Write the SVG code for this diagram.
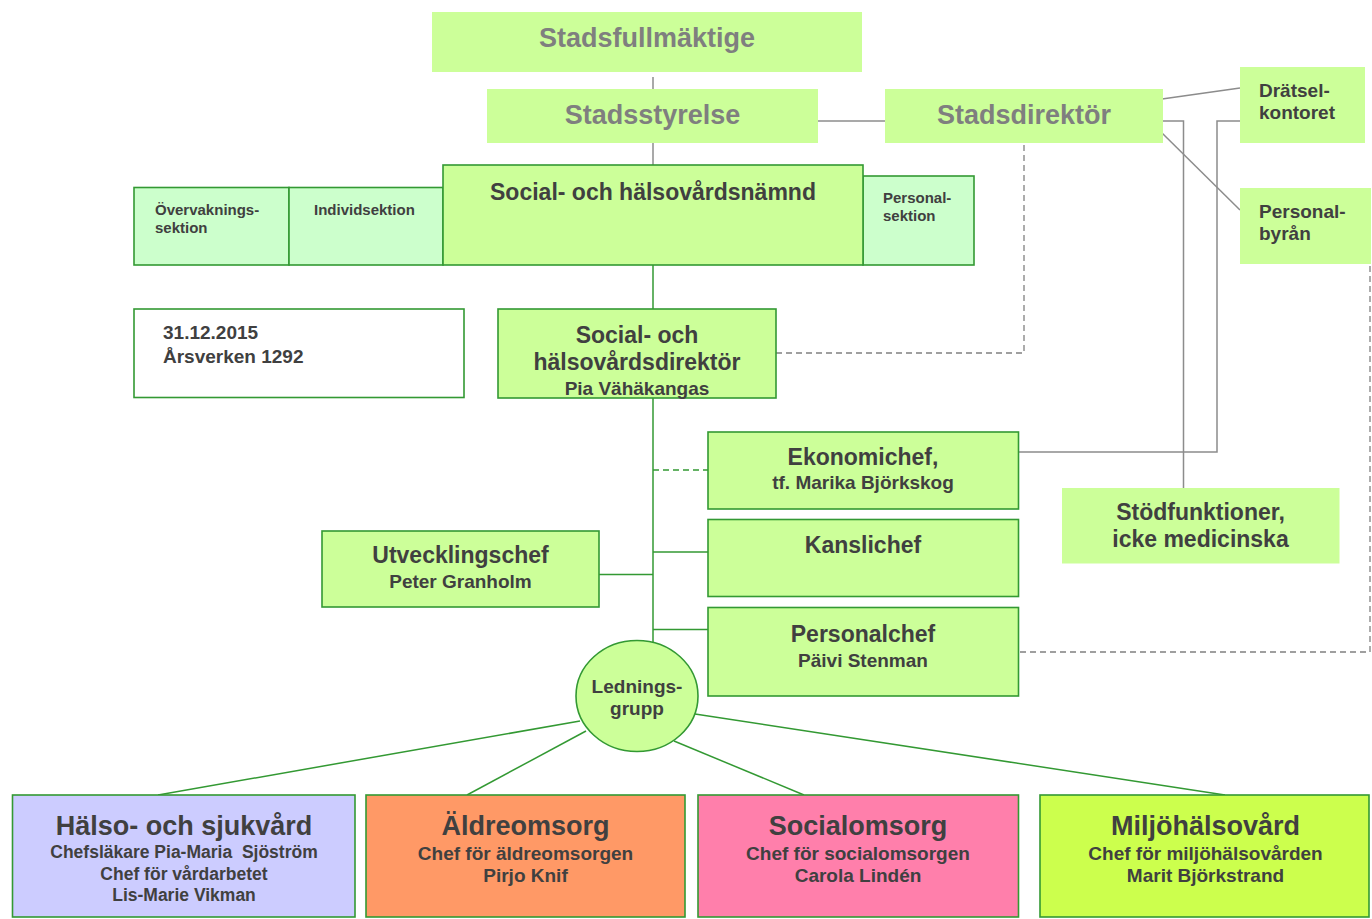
<svg xmlns="http://www.w3.org/2000/svg" width="1372" height="919" viewBox="0 0 1372 919">
<style>
text{font-family:"Liberation Sans",Arial,sans-serif;font-weight:bold;fill:#404040}
.c{text-anchor:middle}
.top{fill:#7f7f7f;font-size:27px}
.g{fill:#ccff99}
.gs{fill:#ccff99;stroke:#339933;stroke-width:1.6}
.sec{fill:#ccffcc;stroke:#339933;stroke-width:1.6}
.ln{fill:none;stroke:#339933;stroke-width:1.5}
.gr{fill:none;stroke:#8c8c8c;stroke-width:1.5}
.dg{fill:none;stroke:#808080;stroke-width:1.3;stroke-dasharray:6 4}
.dgr{fill:none;stroke:#339933;stroke-width:1.5;stroke-dasharray:6 4}
.t15{font-size:15px}
.t19{font-size:19px}
.t23{font-size:23px}
.t27{font-size:27px}
.t17{font-size:17.5px}
</style>
<g id="connectors">
<line class="gr" x1="653" y1="77" x2="653" y2="89"/>
<line class="gr" x1="653" y1="143" x2="653" y2="165"/>
<line class="gr" x1="818" y1="121" x2="885" y2="121"/>
<line class="gr" x1="1162" y1="99" x2="1240" y2="88"/>
<line class="gr" x1="1162" y1="133" x2="1240" y2="210"/>
<polyline class="gr" points="1162,121 1183.5,121 1183.5,488"/>
<polyline class="gr" points="1240,121 1217,121 1217,452 1018.5,452"/>
<polyline class="dg" points="1024,145 1024,353 776,353"/>
<polyline class="dg" points="1370,266 1370,652 1018.5,652"/>
<line class="ln" x1="653" y1="265" x2="653" y2="309"/>
<line class="ln" x1="653" y1="398" x2="653" y2="643"/>
<line class="dgr" x1="653" y1="470" x2="708" y2="470"/>
<line class="ln" x1="653" y1="552" x2="708" y2="552"/>
<line class="ln" x1="599" y1="574.5" x2="653" y2="574.5"/>
<line class="ln" x1="653" y1="629.5" x2="708" y2="629.5"/>
<line class="ln" x1="580" y1="721" x2="158" y2="795"/>
<line class="ln" x1="586" y1="731" x2="467" y2="795"/>
<line class="ln" x1="674" y1="741" x2="804" y2="795"/>
<line class="ln" x1="695" y1="714" x2="1225" y2="795"/>
</g>
<g id="stadsfullmaktige">
<rect class="g" x="432" y="12" width="430" height="60"/>
<text class="top c" x="647" y="47">Stadsfullmäktige</text>
</g>
<g id="stadsstyrelse">
<rect class="g" x="487" y="89" width="331" height="54"/>
<text class="top c" x="652.5" y="124">Stadsstyrelse</text>
</g>
<g id="stadsdirektor">
<rect class="g" x="885" y="89" width="278" height="54"/>
<text class="top c" x="1024" y="124">Stadsdirektör</text>
</g>
<g id="dratselkontoret">
<rect class="g" x="1240" y="67" width="125" height="76"/>
<text class="t19" x="1259" y="97">Drätsel-</text>
<text class="t19" x="1259" y="119">kontoret</text>
</g>
<g id="personalbyran">
<rect class="g" x="1240" y="188" width="131" height="76"/>
<text class="t19" x="1259" y="218">Personal-</text>
<text class="t19" x="1259" y="240">byrån</text>
</g>
<g id="overvakningssektion">
<rect class="sec" x="134" y="187.5" width="155" height="77.5"/>
<text class="t15" x="155" y="215">Övervaknings-</text>
<text class="t15" x="155" y="233">sektion</text>
</g>
<g id="individsektion">
<rect class="sec" x="289" y="187.5" width="154" height="77.5"/>
<text class="t15" x="314" y="215">Individsektion</text>
</g>
<g id="personalsektion">
<rect class="sec" x="863" y="176" width="111" height="89"/>
<text class="t15" x="883" y="203">Personal-</text>
<text class="t15" x="883" y="221">sektion</text>
</g>
<g id="namnd">
<rect class="gs" x="443" y="165" width="420" height="100"/>
<text class="t23 c" x="653" y="200">Social- och hälsovårdsnämnd</text>
</g>
<g id="info">
<rect x="134" y="309" width="330" height="88.5" fill="#ffffff" stroke="#339933" stroke-width="1.6"/>
<text class="t19" x="163" y="339">31.12.2015</text>
<text class="t19" x="163" y="363">Årsverken 1292</text>
</g>
<g id="direktor">
<rect class="gs" x="498" y="309" width="278" height="89"/>
<text class="t23 c" x="637" y="343">Social- och</text>
<text class="t23 c" x="637" y="370">hälsovårdsdirektör</text>
<text class="t19 c" x="637" y="395">Pia Vähäkangas</text>
</g>
<g id="ekonomichef">
<rect class="gs" x="708" y="432" width="310.5" height="77"/>
<text class="t23 c" x="863" y="465">Ekonomichef,</text>
<text class="t19 c" x="863" y="489">tf. Marika Björkskog</text>
</g>
<g id="kanslichef">
<rect class="gs" x="708" y="519.5" width="310.5" height="77"/>
<text class="t23 c" x="863" y="553">Kanslichef</text>
</g>
<g id="personalchef">
<rect class="gs" x="708" y="607.5" width="310.5" height="88.5"/>
<text class="t23 c" x="863" y="642">Personalchef</text>
<text class="t19 c" x="863" y="667">Päivi Stenman</text>
</g>
<g id="utvecklingschef">
<rect class="gs" x="322" y="531" width="277" height="76"/>
<text class="t23 c" x="460.5" y="563">Utvecklingschef</text>
<text class="t19 c" x="460.5" y="588">Peter Granholm</text>
</g>
<g id="stodfunktioner">
<rect class="g" x="1062" y="488" width="277.5" height="75.5"/>
<text class="t23 c" x="1200.5" y="520">Stödfunktioner,</text>
<text class="t23 c" x="1200.5" y="547">icke medicinska</text>
</g>
<g id="ledningsgrupp">
<ellipse class="gs" cx="637" cy="696" rx="61" ry="55.5"/>
<text class="t19 c" x="637" y="693">Lednings-</text>
<text class="t19 c" x="637" y="715">grupp</text>
</g>
<g id="halso">
<rect x="12.5" y="795" width="342.5" height="122" fill="#ccccff" stroke="#339933" stroke-width="1.6"/>
<text class="t27 c" x="184" y="835">Hälso- och sjukvård</text>
<text class="t17 c" x="184" y="858" xml:space="preserve">Chefsläkare Pia-Maria  Sjöström</text>
<text class="t17 c" x="184" y="880">Chef för vårdarbetet</text>
<text class="t17 c" x="184" y="901">Lis-Marie Vikman</text>
</g>
<g id="aldreomsorg">
<rect x="366" y="795" width="319" height="122" fill="#ff9966" stroke="#339933" stroke-width="1.6"/>
<text class="t27 c" x="525.5" y="835">Äldreomsorg</text>
<text class="t19 c" x="525.5" y="860">Chef för äldreomsorgen</text>
<text class="t19 c" x="525.5" y="882">Pirjo Knif</text>
</g>
<g id="socialomsorg">
<rect x="698" y="795" width="320.5" height="122" fill="#ff7fab" stroke="#339933" stroke-width="1.6"/>
<text class="t27 c" x="858" y="835">Socialomsorg</text>
<text class="t19 c" x="858" y="860">Chef för socialomsorgen</text>
<text class="t19 c" x="858" y="882">Carola Lindén</text>
</g>
<g id="miljohalsovard">
<rect x="1040" y="795" width="329" height="122" fill="#ccff4d" stroke="#339933" stroke-width="1.6"/>
<text class="t27 c" x="1205.5" y="835">Miljöhälsovård</text>
<text class="t19 c" x="1205.5" y="860">Chef för miljöhälsovården</text>
<text class="t19 c" x="1205.5" y="882">Marit Björkstrand</text>
</g>
</svg>
